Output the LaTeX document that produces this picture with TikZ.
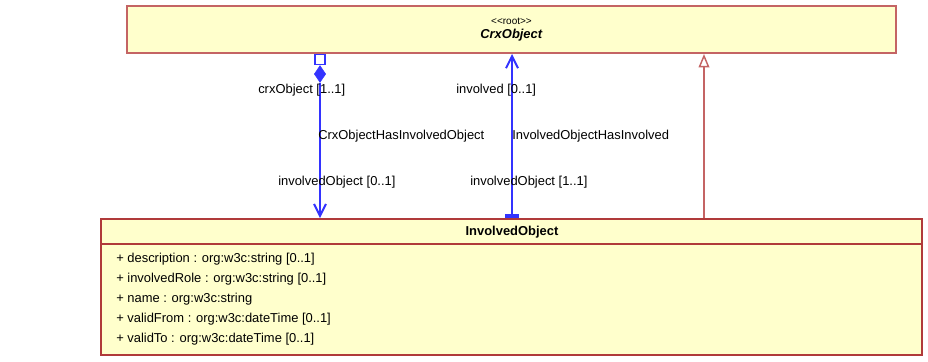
\documentclass[tikz,border=0pt]{standalone}
\usepackage{fontspec}
\setmainfont{Liberation Sans}
\usetikzlibrary{arrows.meta,shapes.geometric}
\definecolor{umlfill}{HTML}{FFFFCC}
\definecolor{umledge}{HTML}{C46464}
\definecolor{umldark}{HTML}{B03A3A}
\definecolor{umlblue}{HTML}{3333FF}
\tikzset{
  classbox/.style={draw, fill=umlfill, line width=1.5pt, inner sep=0pt},
  rolelabel/.style={anchor=base west, inner sep=0pt},
  assocline/.style={draw=umlblue, line width=1.5pt},
  vtip/.style={-{Straight Barb[length=9pt,width=9pt]}}
}
\begin{document}
\begin{tikzpicture}[x=0.75pt, y=-0.75pt, font=\fontsize{9.7}{11}\selectfont]
\useasboundingbox (0,0) rectangle (928,361);
\node[classbox, draw=umledge, minimum width=576.75pt, minimum height=35.25pt, align=center] (crx) at (511.5,29.5)
  {{\fontsize{7.5}{9}\selectfont <\kern0pt<root>\kern0pt>}\\[-1pt]\textbf{\textit{CrxObject}}};
\node[classbox, draw=umldark, line width=1.2pt, minimum width=615.75pt, minimum height=102pt] (inv) at (511.5,287) {};
\coordinate (hdr) at (0,244);
\draw[umldark, line width=1pt] (inv.west |- hdr) -- (inv.east |- hdr);
\node[anchor=base, inner sep=0pt] (invtitle) at (512,235) {\textbf{InvolvedObject}};
\node[anchor=north west, inner sep=0pt, align=left, font=\fontsize{9.7}{15}\selectfont] (invattr) at (116,252.5)
  {+ description : org:w3c:string [0..1]\\
   + involvedRole : org:w3c:string [0..1]\\
   + name : org:w3c:string\\
   + validFrom : org:w3c:dateTime [0..1]\\
   + validTo : org:w3c:dateTime [0..1]};
\coordinate (comp) at (320,0);
\coordinate (assoc) at (512,0);
\coordinate (gen) at (704,0);
\node[draw=umlblue, fill=white, line width=1pt, minimum size=7.5pt, inner sep=0pt, anchor=north] (own) at (crx.south -| comp) {};
\node[diamond, draw=umlblue, fill=umlblue, line width=0.5pt, minimum width=8.5pt, minimum height=12.5pt, inner sep=0pt, anchor=north] (dia) at (own.south) {};
\draw[assocline, vtip] (dia.south) -- (inv.north -| comp);
\draw[assocline, {Rectangle[length=3.5pt,width=10.5pt]}-{Straight Barb[length=9pt,width=9pt]}] (inv.north -| assoc) -- (crx.south -| assoc);
\draw[umledge, line width=1.1pt, -{Triangle[open,length=10pt,width=8pt,fill=white]}] (inv.north -| gen) -- (crx.south -| gen);
\node[rolelabel] (l1) at (258,93) {crxObject [1..1]};
\node[rolelabel] (l2) at (318,139) {CrxObjectHasInvolvedObject};
\node[rolelabel] (l3) at (278,185) {involvedObject [0..1]};
\node[rolelabel] (l4) at (456,93) {involved [0..1]};
\node[rolelabel] (l5) at (512,139) {InvolvedObjectHasInvolved};
\node[rolelabel] (l6) at (470,185) {involvedObject [1..1]};
\end{tikzpicture}
\end{document}
